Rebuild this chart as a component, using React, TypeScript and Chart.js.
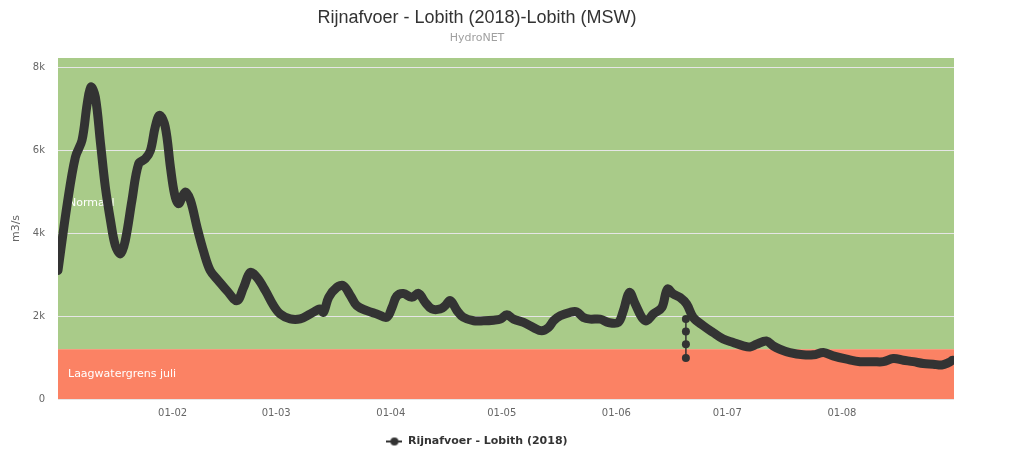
import React, { useEffect, useRef } from 'react';
import { Chart, registerables } from 'chart.js';

Chart.register(...registerables);

const TITLE = 'Rijnafvoer - Lobith (2018)-Lobith (MSW)';
const SUBTITLE = 'HydroNET';
const SERIES_NAME = 'Rijnafvoer - Lobith (2018)';
const Y_TITLE = 'm3/s';

// day of year (0 = 1 Jan 2018) and discharge in m3/s
const dayOfYear = [
  0, 2.5, 4.7, 6.5, 7.9, 8.9, 10.1, 11.5, 12.8, 14.2, 15.5, 16.9, 18.2, 20, 21.8, 23.6, 25, 26.3, 27.5, 29,
  30.4, 31.5, 32.6, 34.4, 35.8, 37.6, 39.4, 41.2, 43.4, 45.7, 48.4, 50.2, 52, 53.8, 56.1, 58.3, 60.1, 62.8, 65.5, 68.2,
  70.9, 71.8, 73.2, 75.4, 77.2, 79.1, 80.8, 83.5, 86.2, 88.9, 90.3, 91.6, 93.4, 95.7, 97.5, 99.3, 101.1, 103.4, 104.7, 106.1,
  107.9, 109.6, 112.4, 115.1, 117.8, 119.6, 121.4, 123.2, 125.9, 128.6, 130.8, 132.6, 134, 135.8, 138.5, 140.3, 142.1, 143.9, 146.6, 148.8,
  151.5, 152.9, 154.5, 156.1, 157.9, 159.2, 161, 163.3, 164.8, 166.4, 168.2, 170, 171.8, 174.5, 177.2, 179.9, 182.6, 185.3, 187.1, 188.9,
  191.6, 193.4, 195.2, 197.9, 201.5, 204.3, 207, 209.6, 213.3, 216.9, 220.5, 223.2, 225.9, 228.6, 231.3, 234, 236.7, 239, 240.8, 241.9,
];
const flow = [
  3100, 4700, 5830, 6240, 7120, 7520, 7280, 6160, 5110, 4300, 3700, 3500, 3820, 4790, 5670, 5790, 5990, 6560, 6840, 6560,
  5590, 4950, 4710, 4990, 4790, 4140, 3550, 3090, 2850, 2610, 2370, 2690, 3050, 2930, 2610, 2250, 2050, 1930, 1930, 2050,
  2170, 2090, 2450, 2690, 2730, 2490, 2250, 2130, 2050, 1970, 2200, 2480, 2545, 2450, 2545, 2330, 2170, 2170, 2250, 2370,
  2130, 1970, 1885, 1885, 1900, 1925, 2030, 1925, 1845, 1720, 1645, 1720, 1885, 2005, 2090, 2100, 1965, 1925, 1925, 1845,
  1845, 2130, 2570, 2290, 1965, 1885, 2050, 2205, 2650, 2530, 2450, 2290, 1965, 1765, 1600, 1445, 1360, 1280, 1255, 1320,
  1400, 1280, 1200, 1120, 1065, 1065, 1120, 1040, 960, 900, 900, 900, 975, 935, 900, 855, 840, 820, 875, 935,
];

// isolated measurement points (vertical drop around 20 June)
const spikeDay = [169.8, 169.8, 169.8, 169.8];
const spikeFlow = [1926, 1627, 1322, 991];

const monthTicks = [31, 59, 90, 120, 151, 181, 212];
const monthLabels = ['01-02', '01-03', '01-04', '01-05', '01-06', '01-07', '01-08'];
const yTicks = [0, 2000, 4000, 6000, 8000];
const yTickLabels = ['0', '2k', '4k', '6k', '8k'];

const bandLowLimit = 1200;
const bandLowLabel = 'Laagwatergrens juli';
const bandHighLabel = 'Normaal';

const X_MAX = 242.3;
const Y_MAX = 8220;

const bandsPlugin = {
  id: 'bands',
  beforeDraw(chart: any) {
    const { ctx, chartArea: a, scales } = chart;
    const y = scales.y;
    const yb = y.getPixelForValue(bandLowLimit);
    ctx.save();
    ctx.fillStyle = '#a9cb89';
    ctx.fillRect(a.left, a.top, a.right - a.left, yb - a.top);
    ctx.fillStyle = '#fb8264';
    ctx.fillRect(a.left, yb, a.right - a.left, a.bottom - yb);
    ctx.fillStyle = '#ffffff';
    ctx.font = '11px "DejaVu Sans"';
    ctx.textBaseline = 'middle';
    ctx.textAlign = 'left';
    ctx.fillText(bandHighLabel, a.left + 10, (a.top + yb) / 2);
    ctx.fillText(bandLowLabel, a.left + 10, (yb + a.bottom) / 2);
    ctx.restore();
  },
};

function makeLegendSymbol(): HTMLCanvasElement {
  const c = document.createElement('canvas');
  c.width = 16;
  c.height = 10;
  const g = c.getContext('2d')!;
  g.strokeStyle = '#333333';
  g.lineWidth = 2;
  g.beginPath();
  g.moveTo(0, 5);
  g.lineTo(16, 5);
  g.stroke();
  g.fillStyle = '#333333';
  g.beginPath();
  g.arc(8, 5, 4, 0, Math.PI * 2);
  g.fill();
  return c;
}

export default function App() {
  const ref = useRef<HTMLCanvasElement | null>(null);

  useEffect(() => {
    if (!ref.current) return;
    const symbol = makeLegendSymbol();
    const chart = new Chart(ref.current, {
      type: 'line',
      data: {
        datasets: [
          {
            label: SERIES_NAME,
            data: dayOfYear.map((d, i) => ({ x: d, y: flow[i] })),
            borderColor: '#333333',
            backgroundColor: '#333333',
            borderWidth: 9,
            borderCapStyle: 'round',
            borderJoinStyle: 'round',
            pointRadius: 0,
            pointHoverRadius: 0,
            pointStyle: symbol as any,
            tension: 0.35,
            fill: false,
          },
          {
            label: 'spike',
            data: spikeDay.map((d, i) => ({ x: d, y: spikeFlow[i] })),
            borderColor: '#333333',
            backgroundColor: '#333333',
            borderWidth: 1.5,
            pointRadius: 4,
            pointBorderWidth: 0,
            fill: false,
          },
        ],
      },
      options: {
        animation: false,
        responsive: true,
        maintainAspectRatio: false,
        events: [],
        layout: { padding: { left: 0, right: 11, top: 0, bottom: 12 } },
        scales: {
          x: {
            type: 'linear',
            min: 0,
            max: X_MAX,
            grid: { display: false, drawTicks: false },
            border: { display: false },
            afterBuildTicks: (s: any) => {
              s.ticks = monthTicks.map((v) => ({ value: v }));
            },
            afterFit: (s: any) => {
              s.height = 27;
            },
            ticks: {
              autoSkip: false,
              maxRotation: 0,
              padding: 8,
              color: '#666666',
              font: { family: '"DejaVu Sans"', size: 10 },
              callback: (v: any) => {
                const i = monthTicks.indexOf(Number(v));
                return i >= 0 ? monthLabels[i] : '';
              },
            },
          },
          y: {
            type: 'linear',
            min: 0,
            max: Y_MAX,
            grid: { color: '#e6e6e6', lineWidth: 1, drawTicks: false },
            border: { display: false },
            afterBuildTicks: (s: any) => {
              s.ticks = yTicks.map((v) => ({ value: v }));
            },
            afterFit: (s: any) => {
              s.width = 58;
            },
            title: {
              display: true,
              text: Y_TITLE,
              color: '#666666',
              font: { family: '"DejaVu Sans"', size: 11 },
              padding: { top: 10, bottom: 0 },
            },
            ticks: {
              padding: 13,
              color: '#666666',
              font: { family: '"DejaVu Sans"', size: 10 },
              callback: (v: any) => {
                const i = yTicks.indexOf(Number(v));
                return i >= 0 ? yTickLabels[i] : '';
              },
            },
          },
        },
        plugins: {
          title: {
            display: true,
            text: TITLE,
            color: '#333333',
            font: { family: '"Liberation Sans"', size: 18, weight: 'normal' },
            padding: { top: 7.2, bottom: 2.6 },
          },
          subtitle: {
            display: true,
            text: SUBTITLE,
            color: '#a0a0a0',
            font: { family: '"DejaVu Sans"', size: 11 },
            padding: { top: 0, bottom: 13.4 },
          },
          legend: {
            display: true,
            position: 'bottom',
            labels: {
              usePointStyle: true,
              pointStyleWidth: 16,
              padding: 10,
              color: '#333333',
              font: { family: '"DejaVu Sans"', size: 11, weight: 'bold' },
              filter: (item: any) => item.datasetIndex === 0,
            },
          },
          tooltip: { enabled: false },
        },
      },
      plugins: [bandsPlugin],
    } as any);
    return () => chart.destroy();
  }, []);

  return (
    <div style={{ position: 'absolute', left: 0, top: 0, width: 965, height: 469 }}>
      <canvas ref={ref} />
    </div>
  );
}
